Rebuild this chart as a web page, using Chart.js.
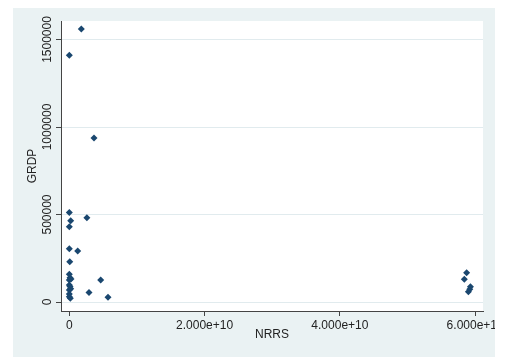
<!DOCTYPE html>
<html lang="en">
<head>
<meta charset="UTF-8">
<title>GRDP vs NRRS</title>
<script src="https://cdn.jsdelivr.net/npm/chart.js"></script>
<style>
  html, body { margin: 0; padding: 0; background: #fff; }
</style>
</head>
<body>
<canvas id="scatter" width="513" height="362"></canvas>
<script>
// values
const nrrs = [1.77e9, 0, 3.65e9, 0, 2.6e9, 2e8, 0, 0, 1.24e9, 6e7, 0, 1e8, 0, 2.5e8, 4.64e9,
              0, 1e8, 2e8, 0, 0, 0, 1.5e8, 2.91e9, 5.72e9,
              5.874e10, 5.84e10, 5.93e10, 5.90e10, 5.92e10];
const grdp = [1560000, 1410000, 937000, 512000, 482000, 465000, 430000, 305000, 291000, 230000, 158000, 139000, 126000, 132000, 126000,
              97000, 88000, 76000, 69000, 46000, 30000, 21000, 55000, 27000,
              167000, 130000, 87000, 59000, 73000];

const xTicks = [0, 2e10, 4e10, 6e10];
const xTickLabels = ['0', '2.000e+10', '4.000e+10', '6.000e+10'];
const yTicks = [0, 500000, 1000000, 1500000];
const yTickLabels = ['0', '500000', '1000000', '1500000'];

const points = nrrs.map((x, i) => ({ x: x, y: grdp[i] }));

const FONT = '"Liberation Sans", Arial, sans-serif';
const TEXT = '#222';
const AXIS = '#444';
const GRID = '#e1ebee';

// Stata-ish backdrop, rotated y labels, and the cropped right edge
const stataLook = {
  id: 'stataLook',
  beforeDraw(chart) {
    const { ctx, chartArea: a } = chart;
    ctx.save();
    ctx.fillStyle = '#eaf2f3';
    ctx.fillRect(13, 8, 482, 349);
    ctx.fillStyle = '#fff';
    ctx.fillRect(a.left, a.top, a.right - a.left, a.bottom - a.top);
    ctx.restore();
  },
  afterDraw(chart) {
    const ctx = chart.ctx;
    const y = chart.scales.y;
    ctx.save();
    ctx.font = '12px ' + FONT;
    ctx.fillStyle = TEXT;
    ctx.textAlign = 'center';
    ctx.textBaseline = 'middle';
    yTicks.forEach((v, i) => {
      ctx.save();
      ctx.translate(48, y.getPixelForValue(v));
      ctx.rotate(-Math.PI / 2);
      ctx.fillText(yTickLabels[i], 0, 0);
      ctx.restore();
    });
    ctx.fillStyle = '#fff';
    ctx.fillRect(495, 0, 18, 362);
    ctx.restore();
  }
};

new Chart(document.getElementById('scatter'), {
  type: 'scatter',
  data: {
    datasets: [{
      data: points,
      pointStyle: 'rectRot',
      pointRadius: 3.5,
      pointHoverRadius: 3.5,
      borderWidth: 0,
      backgroundColor: '#1a476f',
      borderColor: '#1a476f'
    }]
  },
  options: {
    responsive: false,
    animation: false,
    events: [],
    layout: { padding: { left: 0, top: 21, right: 30, bottom: 0 } },
    plugins: { legend: { display: false }, tooltip: { enabled: false } },
    scales: {
      x: {
        type: 'linear',
        min: -1.23e9,
        max: 6.116e10,
        afterBuildTicks: s => { s.ticks = xTicks.map(v => ({ value: v })); },
        afterFit: s => { s.height = 51; },
        ticks: {
          callback: (v, i) => xTickLabels[i],
          font: { family: FONT, size: 12 },
          color: TEXT,
          padding: 2,
          maxRotation: 0,
          autoSkip: false
        },
        grid: { drawOnChartArea: false, tickLength: 5, tickColor: AXIS },
        border: { color: AXIS, width: 1 },
        title: {
          display: true,
          text: 'NRRS',
          font: { family: FONT, size: 12 },
          color: TEXT,
          padding: { top: 0, bottom: 20 }
        }
      },
      y: {
        type: 'linear',
        min: -51400,
        max: 1605700,
        afterBuildTicks: s => { s.ticks = yTicks.map(v => ({ value: v })); },
        afterFit: s => { s.width = 61; },
        ticks: { color: 'rgba(0,0,0,0)', font: { family: FONT, size: 12 } },
        grid: { color: GRID, lineWidth: 1, tickLength: 5, tickColor: AXIS },
        border: { color: AXIS, width: 1 },
        title: {
          display: true,
          text: 'GRDP',
          font: { family: FONT, size: 12 },
          color: TEXT,
          padding: { top: 25, bottom: 0 }
        }
      }
    }
  },
  plugins: [stataLook]
});
</script>
</body>
</html>
